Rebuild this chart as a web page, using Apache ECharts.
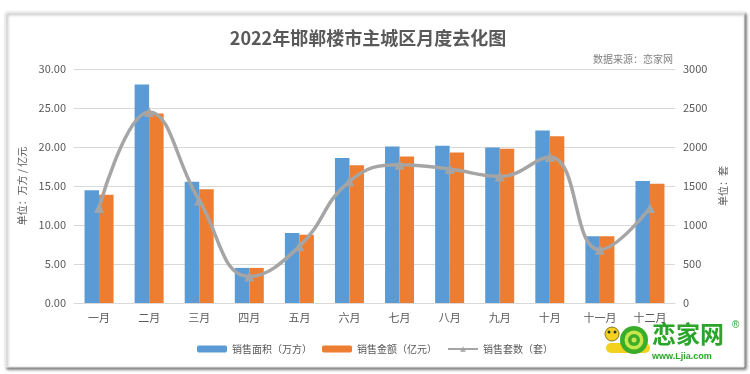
<!DOCTYPE html>
<html><head><meta charset="utf-8">
<script src="https://cdn.jsdelivr.net/npm/echarts@6/dist/echarts.min.js"></script>
<style>html,body{margin:0;padding:0;background:#fff}#c{width:750px;height:374px}</style>
</head><body><div id="c"></div>
<script>
const categories = ['一月','二月','三月','四月','五月','六月','七月','八月','九月','十月','十一月','十二月'];
const areaValues = [14.45, 28.0, 15.55, 4.5, 8.97, 18.6, 20.05, 20.17, 19.95, 22.1, 8.55, 15.65];
const amountValues = [13.88, 24.3, 14.57, 4.5, 8.76, 17.65, 18.77, 19.28, 19.78, 21.37, 8.55, 15.3];
const setValues = [1220, 2450, 1315, 340, 726, 1560, 1772, 1718, 1623, 1872, 683, 1218];
const seriesNames = ['销售面积（万方）','销售金额（亿元）','销售套数（套）'];

const FONT = '"Noto Sans CJK SC", "Liberation Sans", sans-serif';
const chart = echarts.init(document.getElementById('c'));
chart.setOption({
  backgroundColor: '#fff',
  animation: false,
  textStyle: { fontFamily: FONT },
  title: {
    text: '2022年邯郸楼市主城区月度去化图',
    left: 363, top: 24, textAlign: 'center',
    textStyle: { fontSize: 18, fontWeight: 'bold', color: '#595959', fontFamily: FONT }
  },
  graphic: [
    { type: 'rect', z: -10, shape: { x: 5, y: 12, width: 739, height: 355 },
      style: { fill: '#fff', stroke: '#ededed', lineWidth: 1,
        shadowBlur: 3, shadowOffsetX: 2, shadowOffsetY: 2, shadowColor: 'rgba(0,0,0,0.55)' } },
    { type: 'text', right: 77, top: 54,
      style: { text: '数据来源：恋家网', fontSize: 10, fill: '#808080', fontFamily: FONT } },
    { type: 'rect', shape: { x: 606, y: 343, width: 44, height: 10, r: 5 }, style: { fill: '#f2d21e' } },
    { type: 'circle', shape: { cx: 634, cy: 340, r: 14 }, style: { fill: '#3aae2a' } },
    { type: 'circle', shape: { cx: 634, cy: 340, r: 9.5 }, style: { fill: '#c9e64a' } },
    { type: 'circle', shape: { cx: 634, cy: 340, r: 6 }, style: { fill: '#3aae2a' } },
    { type: 'circle', shape: { cx: 634, cy: 340, r: 2.5 }, style: { fill: '#c9e64a' } },
    { type: 'circle', shape: { cx: 612, cy: 334, r: 7 }, style: { fill: '#f2d21e', stroke: '#6b5a10', lineWidth: 0.8 } },
    { type: 'circle', shape: { cx: 609, cy: 332, r: 1.5 }, style: { fill: '#333' } },
    { type: 'circle', shape: { cx: 615, cy: 332, r: 1.5 }, style: { fill: '#333' } },
    { type: 'text', left: 652, top: 322,
      style: { text: '恋家网', fontSize: 24, fontWeight: 'bold', fill: '#2aa52a', fontFamily: FONT } },
    { type: 'text', left: 732, top: 320,
      style: { text: '®', fontSize: 10, fill: '#2aa52a', fontFamily: '"Liberation Sans", sans-serif' } },
    { type: 'text', left: 652, top: 352,
      style: { text: 'www.Ljia.com', fontSize: 9, fontWeight: 'bold', fill: '#2aa52a', fontFamily: '"Liberation Sans", sans-serif' } }
  ],
  legend: {
    data: seriesNames,
    left: 'center', top: 339,
    itemWidth: 30, itemHeight: 7, itemGap: 10,
    textStyle: { fontSize: 10, color: '#595959', fontFamily: FONT }
  },
  grid: { left: 74, right: 75, top: 69, bottom: 71 },
  xAxis: {
    type: 'category', data: categories,
    axisLine: { lineStyle: { color: '#d9d9d9' } },
    axisTick: { show: false },
    axisLabel: { fontSize: 11, color: '#595959', margin: 9 }
  },
  yAxis: [
    { type: 'value', min: 0, max: 30, interval: 5,
      name: '单位：万方 / 亿元', nameLocation: 'middle', nameGap: 44, nameRotate: 90,
      nameTextStyle: { fontSize: 10, color: '#595959' },
      axisLabel: { formatter: v => v.toFixed(2), fontSize: 11, color: '#595959', margin: 8 },
      splitLine: { lineStyle: { color: '#d9d9d9' } },
      axisLine: { show: false }, axisTick: { show: false } },
    { type: 'value', min: 0, max: 3000, interval: 500, position: 'right',
      name: '单位：套', nameLocation: 'middle', nameGap: 42, nameRotate: 90,
      nameTextStyle: { fontSize: 10, color: '#595959' },
      axisLabel: { formatter: v => String(v), fontSize: 11, color: '#595959', margin: 8 },
      splitLine: { show: false },
      axisLine: { show: false }, axisTick: { show: false } }
  ],
  series: [
    { name: seriesNames[0], type: 'bar', data: areaValues, barWidth: 14.5, barGap: '0%',
      itemStyle: { color: '#5B9BD5' } },
    { name: seriesNames[1], type: 'bar', data: amountValues, barWidth: 14.5, barGap: '0%',
      itemStyle: { color: '#ED7D31' } },
    { name: seriesNames[2], type: 'line', yAxisIndex: 1, data: setValues, smooth: 0.45,
      symbol: 'triangle', symbolSize: 10,
      lineStyle: { color: '#A5A5A5', width: 3.5 },
      itemStyle: { color: '#A5A5A5' } }
  ]
});
</script></body></html>
